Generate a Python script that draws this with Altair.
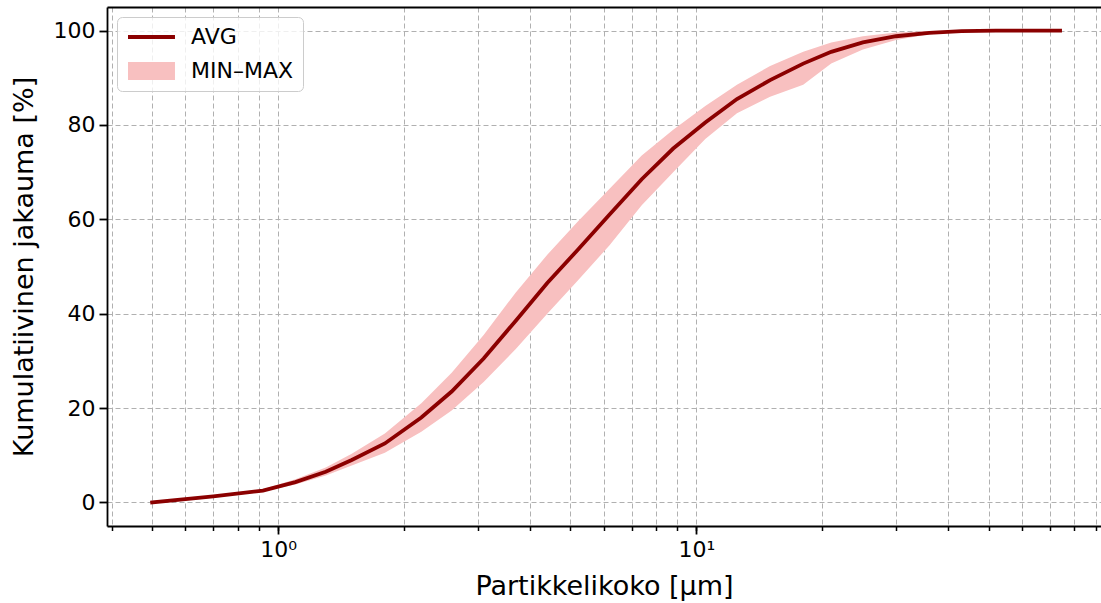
import altair as alt
import pandas as pd

# Particle size [µm]
size_um = [0.5, 0.7, 0.92, 1.1, 1.3, 1.5, 1.8, 2.2, 2.6, 3.1, 3.7, 4.4, 5.2, 6.2, 7.4,
           8.8, 10.5, 12.5, 15, 18, 21, 25, 30, 36, 43, 52, 62, 74]
avg_pct = [0, 1.3, 2.5, 4.3, 6.5, 9, 12.5, 18, 23.5, 30.5, 38.5, 46.5, 53.5, 61, 68.5,
           75, 80.5, 85.5, 89.5, 93, 95.5, 97.5, 98.8, 99.5, 99.9, 100, 100, 100]
min_pct = [0, 1.2, 2.3, 3.8, 5.7, 7.8, 10.5, 15, 19.5, 25.5, 32.5, 40, 47, 54.5, 63,
           70, 77, 82.5, 86, 88.5, 93, 96, 98, 99.2, 99.8, 100, 100, 100]
max_pct = [0, 1.4, 2.8, 4.9, 7.4, 10.3, 14.6, 21, 27.5, 35.5, 44.5, 52.5, 59.5, 66.5, 73.5,
           79, 84, 88.5, 92.5, 95.5, 97.5, 98.8, 99.6, 99.9, 100, 100, 100, 100]

series_names = ["AVG", "MIN–MAX"]
x_minor_ticks = [0.4, 0.5, 0.6, 0.7, 0.8, 0.9, 1, 2, 3, 4, 5, 6, 7, 8, 9, 10,
                 20, 30, 40, 50, 60, 70, 80, 90]
x_major_ticks = [1, 10]
y_ticks = [0, 20, 40, 60, 80, 100]

df = pd.DataFrame({"size": size_um, "avg": avg_pct, "lo": min_pct, "hi": max_pct})
df_band = df.assign(series=series_names[1])
df_line = df.assign(series=series_names[0])

FONT = "DejaVu Sans"
xscale = alt.Scale(type="log", domain=[0.39, 92.7], nice=False)
yscale = alt.Scale(domain=[-5, 105], nice=False, zero=False)
cscale = alt.Scale(domain=series_names, range=["#8b0000", "#f8c0c0"])

legend = alt.Legend(
    title=None, orient="top-left", offset=10, padding=9, rowPadding=12,
    fillColor="rgba(255,255,255,0.8)", strokeColor="#cccccc", cornerRadius=5,
    labelFontSize=22, labelFont=FONT, labelColor="black", labelOffset=43,
    symbolSize=324, symbolStrokeWidth=0,
    symbolType={"expr": "datum.value === 'AVG' ? 'M-1,-0.22H4.22V0.22H-1Z' : 'M-1,-1H4.22V1H-1Z'"},
)

grid_kw = dict(gridColor="#b0b0b0", gridDash=[5, 3], gridWidth=1, gridOpacity=1)

band = alt.Chart(df_band).mark_area().encode(
    x=alt.X("size:Q", scale=xscale,
            axis=alt.Axis(orient="bottom", values=x_minor_ticks, labels=False, title=None,
                          tickSize=4.5, tickWidth=1.5, tickColor="black", grid=True,
                          domainColor="black", domainWidth=1.8, **grid_kw)),
    y=alt.Y("lo:Q", scale=yscale,
            axis=alt.Axis(values=y_ticks, title="Kumulatiivinen jakauma [%]", grid=True,
                          tickSize=8, tickWidth=1.8, tickColor="black",
                          domainColor="black", domainWidth=1.8,
                          labelFont=FONT, labelFontSize=22, labelColor="black", labelPadding=4,
                          titleFont=FONT, titleFontSize=27, titleFontWeight="normal",
                          titleColor="black", titlePadding=15, **grid_kw)),
    y2="hi:Q",
    color=alt.Color("series:N", scale=cscale, legend=legend),
)

line = alt.Chart(df_line).mark_line(strokeWidth=3.8, strokeCap="square").encode(
    x=alt.X("size:Q", scale=xscale,
            axis=alt.Axis(orient="bottom", values=x_major_ticks, grid=False, domain=False,
                          tickSize=8, tickWidth=1.8, tickColor="black",
                          labelExpr="datum.value == 1 ? '10⁰' : '10¹'",
                          labelFont=FONT, labelFontSize=22, labelColor="black", labelPadding=5,
                          title="Partikkelikoko [µm]", titleFont=FONT, titleFontSize=27,
                          titleFontWeight="normal", titleColor="black", titlePadding=13)),
    y=alt.Y("avg:Q", scale=yscale, axis=None),
    color=alt.Color("series:N", scale=cscale, legend=legend),
)

top = alt.Chart(df_line).mark_line(opacity=0).encode(
    x=alt.X("size:Q", scale=xscale,
            axis=alt.Axis(orient="top", labels=False, ticks=False, grid=False, title=None,
                          domainColor="black", domainWidth=1.8)),
    y=alt.Y("avg:Q", scale=yscale, axis=None),
)

chart = alt.layer(band, line, top).resolve_axis(x="independent", y="independent").properties(
    width=994, height=519,
    autosize=alt.AutoSizeParams(type="none"),
    padding={"left": 107, "top": 7, "right": 0, "bottom": 77},
    background="white",
).configure_view(stroke=None)

chart.save("out.html", embed_options={"renderer": "svg", "actions": False})
